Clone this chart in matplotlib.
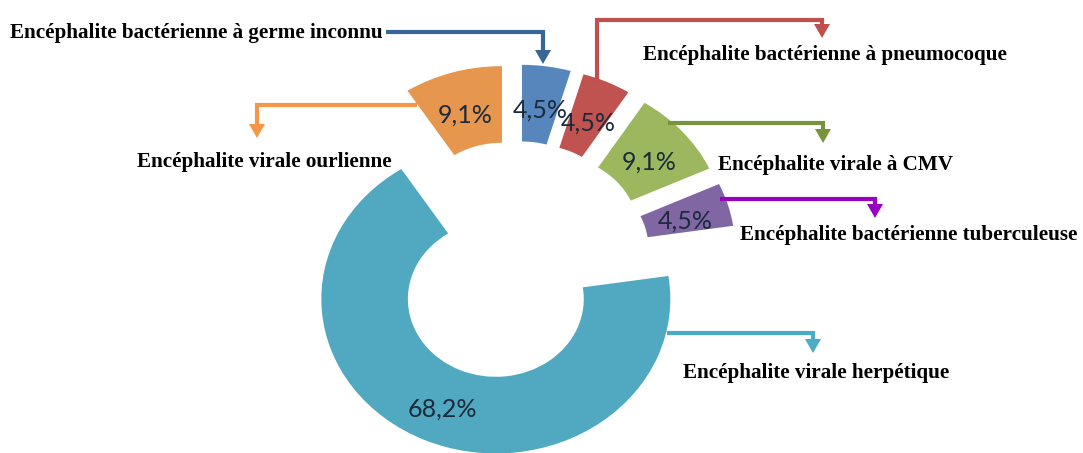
import numpy as np
import matplotlib
matplotlib.use("Agg")
import matplotlib.pyplot as plt
from matplotlib.patches import Polygon
from matplotlib.transforms import offset_copy

# encephalitis types, clockwise from 12 o'clock
categories = [
    "Encéphalite bactérienne à germe inconnu",
    "Encéphalite bactérienne à pneumocoque",
    "Encéphalite virale à CMV",
    "Encéphalite bactérienne tuberculeuse",
    "Encéphalite virale herpétique",
    "Encéphalite virale ourlienne",
]
values = [4.5, 4.5, 9.1, 4.5, 68.2, 9.1]
slice_colors = ["#5686BC", "#C0524F", "#9DB75E", "#8067A4", "#50A9C0", "#E6964D"]
line_colors = ["#3A6597", "#C0504D", "#77933C", "#9A00C0", "#4BACC6", "#F79646"]

# callout layout in pixels: text anchor, connector path, arrow tip
text_pos = [(10, 38), (643, 60), (718, 170), (740, 240), (683, 378), (137, 167)]
paths = [
    [(386, 32), (543, 32), (543, 50)],
    [(597, 82), (597, 20), (822, 20), (822, 25)],
    [(668, 123), (823, 123), (823, 130)],
    [(720, 199), (875, 199), (875, 205)],
    [(667, 333), (813, 333), (813, 340)],
    [(417, 105), (257, 105), (257, 125)],
]
tips = [(543, 64), (822, 38), (823, 143), (875, 218), (813, 353), (257, 138)]

W, H = 1083, 453
fig = plt.figure(figsize=(W / 100, H / 100), dpi=100)

ax = fig.add_axes([0, 0, 1, 1])
wedges, _ = ax.pie(values, colors=slice_colors, startangle=90, counterclock=False,
                   explode=[0.271] * len(values), radius=1.0,
                   wedgeprops=dict(width=0.496, linewidth=0))
# chart area is wider than tall, so the ring is drawn slightly stretched
ax.set_aspect("auto")
ax.set_xlim(-515.3 / 174.5, (W - 515.3) / 174.5)
ax.set_ylim(-(H - 260.8) / 154.5, 260.8 / 154.5)
ax.axis("off")

pct_tr = offset_copy(ax.transData, fig=fig, x=0, y=-5, units="dots")
for w, v in zip(wedges, values):
    th = np.deg2rad((w.theta1 + w.theta2) / 2)
    cx, cy = w.center
    r = 0.745 * w.r
    ax.text(cx + r * np.cos(th), cy + r * np.sin(th), f"{v:.1f}%".replace(".", ","),
            ha="center", va="center", fontsize=18, color="#1B2A3C", family="Lato",
            transform=pct_tr)

# callouts drawn in pixel coordinates
ov = fig.add_axes([0, 0, 1, 1], facecolor="none")
ov.set_xlim(0, W)
ov.set_ylim(H, 0)
ov.axis("off")

for name, (tx, ty), pts, (px, py), col in zip(categories, text_pos, paths, tips, line_colors):
    xs, ys = zip(*pts)
    ov.plot(xs, ys, color=col, lw=3, solid_joinstyle="miter", solid_capstyle="butt")
    ov.add_patch(Polygon([(px - 8, py - 14), (px + 8, py - 14), (px, py)],
                         closed=True, color=col, lw=0))
    ov.text(tx, ty, name, ha="left", va="baseline", fontsize=15.2,
            fontweight="bold", family="Liberation Serif", color="black")

fig.savefig("out.png", dpi=100)
